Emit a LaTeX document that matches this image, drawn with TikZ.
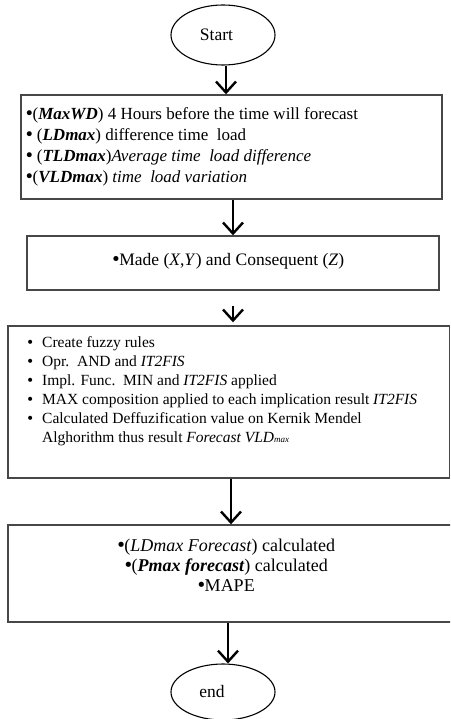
\documentclass[tikz,border=0pt]{standalone}
\usepackage{fontspec}
\setmainfont{Liberation Serif}
\newfontfamily\bulfont{DejaVu Sans}
\usetikzlibrary{shapes.geometric,arrows.meta}
\newcommand\bigbul{\makebox[6.5pt][c]{\bulfont •}}
\newcommand\midbul{{\bulfont\fontsize{14}{14}\selectfont •}}
\begin{document}
\begin{tikzpicture}[x=1pt,y=-1pt,
  boxshape/.style={draw=black!72,line width=1.4pt,inner sep=0pt},
  txt/.style={inner sep=0pt},
  term/.style={ellipse,draw=black,line width=1.1pt,minimum width=104pt,minimum height=60pt,inner sep=0pt,font=\fontsize{17.5}{20}\selectfont},
  arr/.style={line width=2.2pt,-{Straight Barb[length=11pt,width=20pt,line width=2.4pt]}}]
\useasboundingbox (0,0) rectangle (450,719);
\clip (0,0) rectangle (450,719);
% terminals
\node[term] (start) at (223,35) {\hspace*{-13pt}Start};
\node[term,minimum height=56pt] (end) at (223,692) {\hspace*{-22pt}end};
% box 1
\node[boxshape,minimum width=421pt,minimum height=104pt] (b1) at (231.5,147) {};
\node[txt,anchor=west,align=left,font=\fontsize{17}{21}\selectfont] (t1) at (26,147) {%
\bigbul(\textbf{\textit{MaxWD}}) 4 Hours before the time will forecast\\
\bigbul\ (\textbf{\textit{LDmax}}) difference time\ \ load\\
\bigbul\ (\textbf{\textit{TLDmax}})\textit{Average time\ \ load difference}\\
\bigbul(\textbf{\textit{VLDmax}}) \textit{time\ \ load variation}};
% box 2
\node[boxshape,minimum width=412pt,minimum height=54pt] (b2) at (233,263) {};
\node[txt,font=\fontsize{17.5}{21}\selectfont] (t2) at (228.5,261) {\bigbul Made (\textit{X},\textit{Y}) and Consequent (\textit{Z})};
% box 3
\node[boxshape,minimum width=441.5pt,minimum height=152pt] (b3) at (228.75,402) {};
\node[txt,anchor=west,align=left,font=\fontsize{15.5}{19}\selectfont] (t3) at (26,391) {%
\makebox[16pt][l]{\midbul}Create fuzzy rules\\
\makebox[16pt][l]{\midbul}Opr.\ \ AND and \textit{IT2FIS}\\
\makebox[16pt][l]{\midbul}Impl. Func.\ \ MIN and \textit{IT2FIS} applied\\
\makebox[16pt][l]{\midbul}MAX composition applied to each implication result \textit{IT2FIS}\\
\makebox[16pt][l]{\midbul}Calculated Deffuzification value on Kernik Mendel\\
\hspace*{16pt}Alghorithm thus result \textit{Forecast VLD}{\fontsize{9}{9}\selectfont\textit{max}}};
% box 4
\node[boxshape,minimum width=447pt,minimum height=97pt] (b4) at (231.5,573.5) {};
\node[txt,align=center,font=\fontsize{18}{20}\selectfont] (t4) at (226.5,565) {%
\bigbul(\textit{LDmax Forecast}) calculated\\
\bigbul(\textbf{\textit{Pmax forecast}}) calculated\\
\bigbul MAPE};
% connectors
\draw[arr] ([xshift=3pt]start.south) -- ([xshift=3pt]start.south |- b1.north);
\draw[arr] ([xshift=1.5pt]b1.south) -- ([xshift=1.5pt]b1.south |- b2.north);
\draw[arr,shorten <=15pt,shorten >=3pt] (b2.south) -- (b2.south |- b3.north);
\draw[arr] ([xshift=2.25pt]b3.south) -- ([xshift=2.25pt]b3.south |- b4.north);
\draw[arr] ([xshift=5pt]end.north |- b4.south) -- ([xshift=5pt]end.north);
\end{tikzpicture}
\end{document}
